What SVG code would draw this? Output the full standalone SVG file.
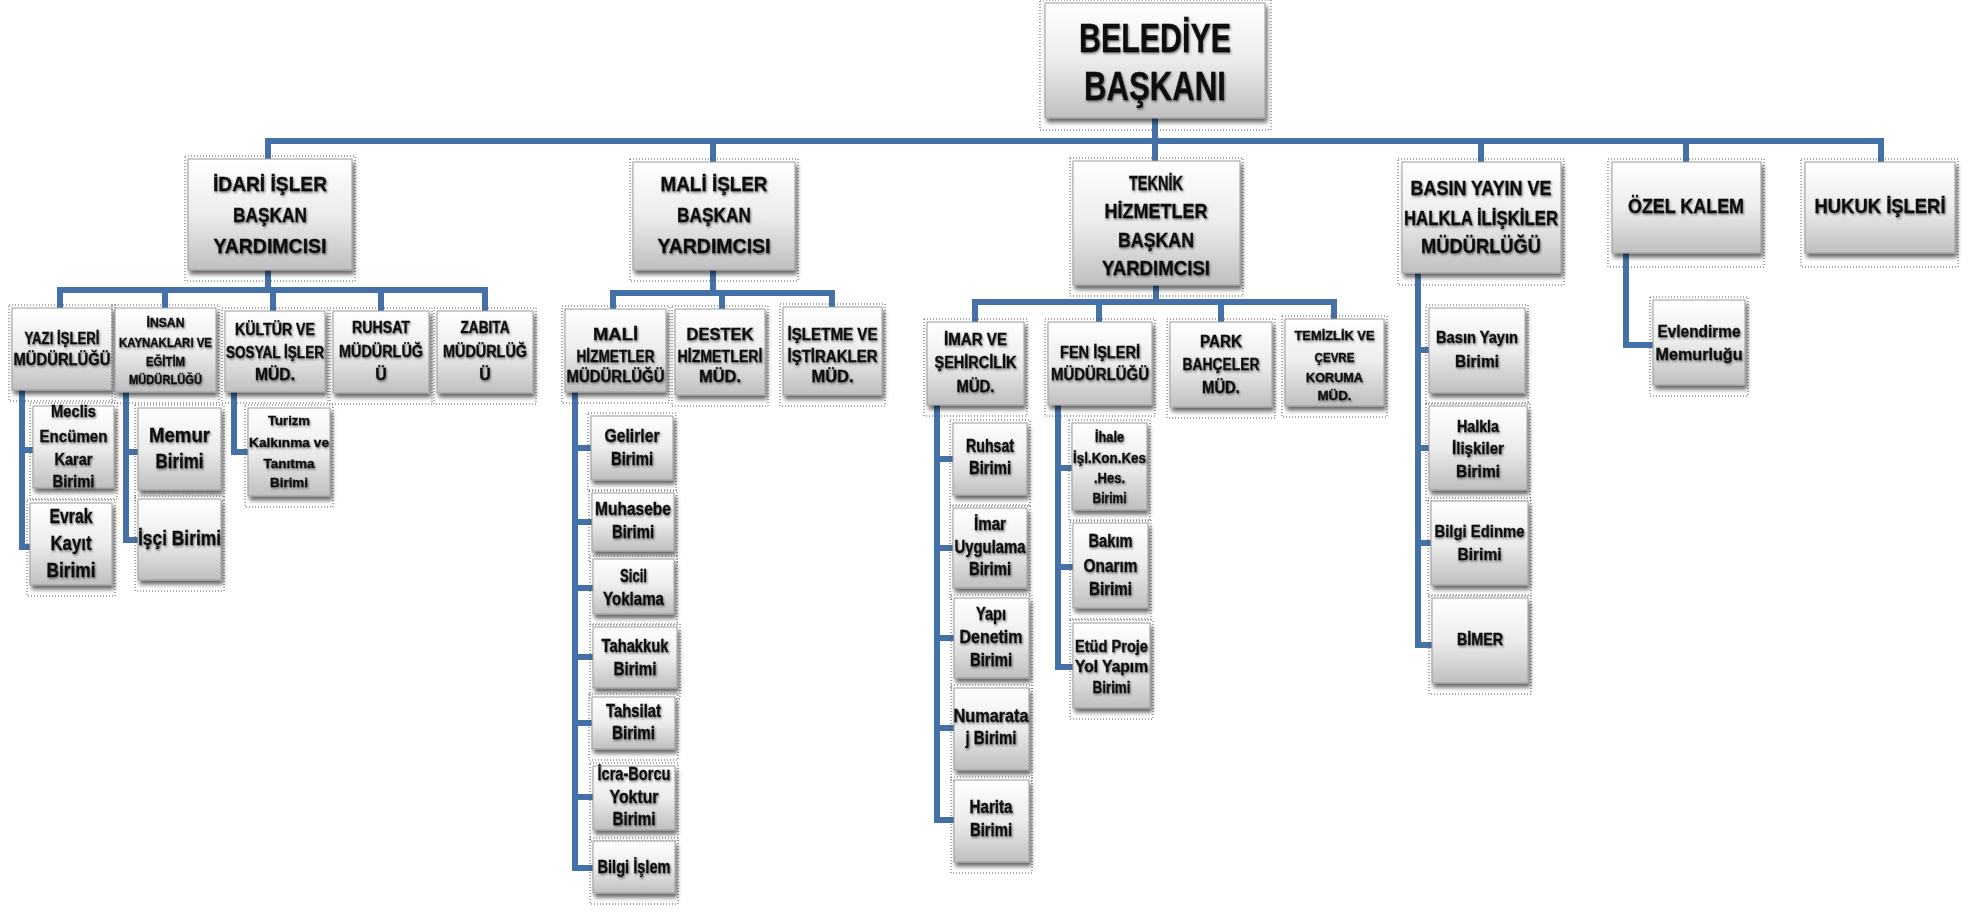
<svg xmlns="http://www.w3.org/2000/svg" width="1972" height="923" viewBox="0 0 1972 923">
<defs>
<linearGradient id="g" x1="0" y1="0" x2="0" y2="1">
<stop offset="0" stop-color="#ffffff"/>
<stop offset="0.5" stop-color="#ececec"/>
<stop offset="1" stop-color="#bfbfbf"/>
</linearGradient>
<filter id="sh" x="-10%" y="-10%" width="130%" height="140%">
<feDropShadow dx="2" dy="4" stdDeviation="2" flood-color="#000" flood-opacity="0.6"/>
</filter>
<filter id="ts" x="-5%" y="-20%" width="115%" height="150%">
<feDropShadow dx="1" dy="1.5" stdDeviation="0.8" flood-color="#000" flood-opacity="0.5"/>
</filter>
</defs>
<style>
.box{fill:url(#g);stroke:#9c9c9c;stroke-width:1;filter:url(#sh)}
.dot{fill:none;stroke:#555;stroke-width:1;stroke-dasharray:1 2}
.t{font-family:"Liberation Sans",Arial,sans-serif;font-weight:bold;text-anchor:middle;fill:#111;stroke:#111;stroke-width:0.35;filter:url(#ts)}
.c{fill:none;stroke:#4472A8;stroke-width:6;stroke-linejoin:miter;stroke-linecap:square}
</style>
<rect width="1972" height="923" fill="#fff"/>

<g id="connectors">
<path class="c" d="M1155,118V141M268,159V141H1881V162M713,141V162M1155,141V161M1481,141V162M1686,141V162"/>
<path class="c" d="M268,270V290M60,308V290H485V311M165,290V308M273,290V311M381,290V311"/>
<path class="c" d="M22,390V547H30M22,450H33"/>
<path class="c" d="M126,392V540H138M126,452H138"/>
<path class="c" d="M234,392V452H248"/>
<path class="c" d="M713,270V293M613,309V293H832V307M722,293V309"/>
<path class="c" d="M575,392V868H593M575,448H591M575,522H592M575,588H593M575,657H593M575,723H592M575,797H593"/>
<path class="c" d="M1156,285V302M975,322V302H1334V319M1099,302V322M1221,302V322"/>
<path class="c" d="M937,405V820H954M937,459H953M937,548H953M937,638H954M937,728H954"/>
<path class="c" d="M1058,405V667H1073M1058,468H1072M1058,567H1073"/>
<path class="c" d="M1418,273V645H1432M1418,350H1429M1418,448H1429M1418,543H1431"/>
<path class="c" d="M1626,253V345H1653"/>
</g>

<g id="n-baskan">
<rect class="dot" x="1040" y="0" width="231" height="130"/>
<rect class="box" x="1045" y="3" width="220" height="115"/>
<text class="t" font-size="40" x="1155" y="52" textLength="152" lengthAdjust="spacingAndGlyphs">BELEDİYE</text>
<text class="t" font-size="40" x="1155" y="100" textLength="142" lengthAdjust="spacingAndGlyphs">BAŞKANI</text>
</g>

<g id="n-idari">
<rect class="dot" x="185" y="156" width="170" height="125"/>
<rect class="box" x="188" y="159" width="164" height="111"/>
<text class="t" font-size="21" x="270" y="191" textLength="114" lengthAdjust="spacingAndGlyphs">İDARİ İŞLER</text>
<text class="t" font-size="21" x="270" y="222" textLength="74" lengthAdjust="spacingAndGlyphs">BAŞKAN</text>
<text class="t" font-size="21" x="270" y="253" textLength="113" lengthAdjust="spacingAndGlyphs">YARDIMCISI</text>
</g>

<g id="n-mali">
<rect class="dot" x="630" y="159" width="168" height="122"/>
<rect class="box" x="633" y="162" width="162" height="108"/>
<text class="t" font-size="21" x="714" y="191" textLength="107" lengthAdjust="spacingAndGlyphs">MALİ İŞLER</text>
<text class="t" font-size="21" x="714" y="222" textLength="74" lengthAdjust="spacingAndGlyphs">BAŞKAN</text>
<text class="t" font-size="21" x="714" y="253" textLength="113" lengthAdjust="spacingAndGlyphs">YARDIMCISI</text>
</g>

<g id="n-teknik">
<rect class="dot" x="1070" y="158" width="173" height="138"/>
<rect class="box" x="1073" y="161" width="167" height="124"/>
<text class="t" font-size="20" x="1156" y="190" textLength="54" lengthAdjust="spacingAndGlyphs">TEKNİK</text>
<text class="t" font-size="20" x="1156" y="218" textLength="103" lengthAdjust="spacingAndGlyphs">HİZMETLER</text>
<text class="t" font-size="20" x="1156" y="247" textLength="76" lengthAdjust="spacingAndGlyphs">BAŞKAN</text>
<text class="t" font-size="20" x="1156" y="275" textLength="108" lengthAdjust="spacingAndGlyphs">YARDIMCISI</text>
</g>

<g id="n-basin">
<rect class="dot" x="1398" y="159" width="166" height="126"/>
<rect class="box" x="1402" y="162" width="159" height="111"/>
<text class="t" font-size="20" x="1481" y="195" textLength="141" lengthAdjust="spacingAndGlyphs">BASIN YAYIN VE</text>
<text class="t" font-size="20" x="1481" y="225" textLength="154" lengthAdjust="spacingAndGlyphs">HALKLA İLİŞKİLER</text>
<text class="t" font-size="20" x="1481" y="253" textLength="120" lengthAdjust="spacingAndGlyphs">MÜDÜRLÜĞÜ</text>
</g>

<g id="n-ozel">
<rect class="dot" x="1608" y="159" width="156" height="108"/>
<rect class="box" x="1612" y="162" width="149" height="91"/>
<text class="t" font-size="21" x="1686" y="213" textLength="116" lengthAdjust="spacingAndGlyphs">ÖZEL KALEM</text>
</g>

<g id="n-hukuk">
<rect class="dot" x="1801" y="159" width="157" height="108"/>
<rect class="box" x="1805" y="162" width="150" height="91"/>
<text class="t" font-size="21" x="1880" y="213" textLength="131" lengthAdjust="spacingAndGlyphs">HUKUK İŞLERİ</text>
</g>

<g id="n-yazi">
<rect class="dot" x="9" y="305" width="106" height="96"/>
<rect class="box" x="12" y="308" width="100" height="82"/>
<text class="t" font-size="16" x="62" y="344" textLength="75" lengthAdjust="spacingAndGlyphs">YAZI İŞLERİ</text>
<text class="t" font-size="16" x="62" y="365" textLength="97" lengthAdjust="spacingAndGlyphs">MÜDÜRLÜĞÜ</text>
</g>

<g id="n-insan">
<rect class="dot" x="112" y="305" width="107" height="98"/>
<rect class="box" x="115" y="308" width="101" height="84"/>
<text class="t" font-size="12" x="165.5" y="327" textLength="38" lengthAdjust="spacingAndGlyphs">İNSAN</text>
<text class="t" font-size="12" x="165.5" y="347" textLength="93" lengthAdjust="spacingAndGlyphs">KAYNAKLARI  VE</text>
<text class="t" font-size="12" x="165.5" y="366" textLength="39" lengthAdjust="spacingAndGlyphs">EĞİTİM</text>
<text class="t" font-size="12" x="165.5" y="384" textLength="73" lengthAdjust="spacingAndGlyphs">MÜDÜRLÜĞÜ</text>
</g>

<g id="n-kultur">
<rect class="dot" x="222" y="308" width="106" height="95"/>
<rect class="box" x="225" y="311" width="100" height="81"/>
<text class="t" font-size="16" x="275" y="335" textLength="80" lengthAdjust="spacingAndGlyphs">KÜLTÜR VE</text>
<text class="t" font-size="16" x="275" y="358" textLength="98" lengthAdjust="spacingAndGlyphs">SOSYAL İŞLER</text>
<text class="t" font-size="16" x="275" y="380" textLength="40" lengthAdjust="spacingAndGlyphs">MÜD.</text>
</g>

<g id="n-ruhsat">
<rect class="dot" x="330" y="308" width="102" height="96"/>
<rect class="box" x="333" y="311" width="96" height="82"/>
<text class="t" font-size="16" x="381" y="333" textLength="58" lengthAdjust="spacingAndGlyphs">RUHSAT</text>
<text class="t" font-size="16" x="381" y="357" textLength="84" lengthAdjust="spacingAndGlyphs">MÜDÜRLÜĞ</text>
<text class="t" font-size="16" x="381" y="380">Ü</text>
</g>

<g id="n-zabita">
<rect class="dot" x="434" y="308" width="102" height="96"/>
<rect class="box" x="437" y="311" width="96" height="82"/>
<text class="t" font-size="16" x="485" y="333" textLength="49" lengthAdjust="spacingAndGlyphs">ZABITA</text>
<text class="t" font-size="16" x="485" y="357" textLength="84" lengthAdjust="spacingAndGlyphs">MÜDÜRLÜĞ</text>
<text class="t" font-size="16" x="485" y="380">Ü</text>
</g>

<g id="n-malihizmetler">
<rect class="dot" x="562" y="306" width="107" height="97"/>
<rect class="box" x="565" y="309" width="101" height="83"/>
<text class="t" font-size="16" x="615.5" y="340" textLength="45" lengthAdjust="spacingAndGlyphs">MALİ</text>
<text class="t" font-size="16" x="615.5" y="362" textLength="78" lengthAdjust="spacingAndGlyphs">HİZMETLER</text>
<text class="t" font-size="16" x="615.5" y="382" textLength="98" lengthAdjust="spacingAndGlyphs">MÜDÜRLÜĞÜ</text>
</g>

<g id="n-destek">
<rect class="dot" x="672" y="306" width="96" height="100"/>
<rect class="box" x="675" y="309" width="90" height="86"/>
<text class="t" font-size="16" x="720" y="340" textLength="67" lengthAdjust="spacingAndGlyphs">DESTEK</text>
<text class="t" font-size="16" x="720" y="362" textLength="85" lengthAdjust="spacingAndGlyphs">HİZMETLERİ</text>
<text class="t" font-size="16" x="720" y="382" textLength="42" lengthAdjust="spacingAndGlyphs">MÜD.</text>
</g>

<g id="n-isletme">
<rect class="dot" x="780" y="304" width="105" height="102"/>
<rect class="box" x="783" y="307" width="99" height="88"/>
<text class="t" font-size="16" x="832.5" y="340" textLength="90" lengthAdjust="spacingAndGlyphs">İŞLETME VE</text>
<text class="t" font-size="16" x="832.5" y="362" textLength="90" lengthAdjust="spacingAndGlyphs">İŞTİRAKLER</text>
<text class="t" font-size="16" x="832.5" y="382" textLength="42" lengthAdjust="spacingAndGlyphs">MÜD.</text>
</g>

<g id="n-imar">
<rect class="dot" x="924" y="319" width="103" height="97"/>
<rect class="box" x="927" y="322" width="97" height="83"/>
<text class="t" font-size="16" x="975.5" y="345" textLength="63" lengthAdjust="spacingAndGlyphs">İMAR VE</text>
<text class="t" font-size="16" x="975.5" y="368" textLength="82" lengthAdjust="spacingAndGlyphs">ŞEHİRCİLİK</text>
<text class="t" font-size="16" x="975.5" y="392" textLength="38" lengthAdjust="spacingAndGlyphs">MÜD.</text>
</g>

<g id="n-fen">
<rect class="dot" x="1045" y="319" width="110" height="97"/>
<rect class="box" x="1048" y="322" width="104" height="83"/>
<text class="t" font-size="16" x="1100" y="358" textLength="80" lengthAdjust="spacingAndGlyphs">FEN İŞLERİ</text>
<text class="t" font-size="16" x="1100" y="380" textLength="98" lengthAdjust="spacingAndGlyphs">MÜDÜRLÜĞÜ</text>
</g>

<g id="n-park">
<rect class="dot" x="1167" y="319" width="108" height="99"/>
<rect class="box" x="1170" y="322" width="102" height="85"/>
<text class="t" font-size="16" x="1221" y="347" textLength="42" lengthAdjust="spacingAndGlyphs">PARK</text>
<text class="t" font-size="16" x="1221" y="370" textLength="77" lengthAdjust="spacingAndGlyphs">BAHÇELER</text>
<text class="t" font-size="16" x="1221" y="393" textLength="38" lengthAdjust="spacingAndGlyphs">MÜD.</text>
</g>

<g id="n-temizlik">
<rect class="dot" x="1282" y="316" width="105" height="101"/>
<rect class="box" x="1285" y="319" width="99" height="87"/>
<text class="t" font-size="13" x="1334.5" y="340" textLength="80" lengthAdjust="spacingAndGlyphs">TEMİZLİK  VE</text>
<text class="t" font-size="13" x="1334.5" y="362" textLength="40" lengthAdjust="spacingAndGlyphs">ÇEVRE</text>
<text class="t" font-size="13" x="1334.5" y="382" textLength="57" lengthAdjust="spacingAndGlyphs">KORUMA</text>
<text class="t" font-size="13" x="1334.5" y="400" textLength="34" lengthAdjust="spacingAndGlyphs">MÜD.</text>
</g>

<g id="n-meclis">
<rect class="dot" x="30" y="403" width="87" height="96"/>
<rect class="box" x="33" y="406" width="81" height="82"/>
<text class="t" font-size="17" x="73.5" y="417" textLength="45" lengthAdjust="spacingAndGlyphs">Meclis</text>
<text class="t" font-size="17" x="73.5" y="442" textLength="68" lengthAdjust="spacingAndGlyphs">Encümen</text>
<text class="t" font-size="17" x="73.5" y="465" textLength="38" lengthAdjust="spacingAndGlyphs">Karar</text>
<text class="t" font-size="17" x="73.5" y="487" textLength="42" lengthAdjust="spacingAndGlyphs">Birimi</text>
</g>

<g id="n-evrak">
<rect class="dot" x="27" y="500" width="88" height="96"/>
<rect class="box" x="30" y="503" width="82" height="82"/>
<text class="t" font-size="20" x="71" y="523" textLength="43" lengthAdjust="spacingAndGlyphs">Evrak</text>
<text class="t" font-size="20" x="71" y="550" textLength="41" lengthAdjust="spacingAndGlyphs">Kayıt</text>
<text class="t" font-size="20" x="71" y="577" textLength="49" lengthAdjust="spacingAndGlyphs">Birimi</text>
</g>

<g id="n-memur">
<rect class="dot" x="135" y="405" width="89" height="96"/>
<rect class="box" x="138" y="408" width="83" height="82"/>
<text class="t" font-size="20" x="179.5" y="442" textLength="61" lengthAdjust="spacingAndGlyphs">Memur</text>
<text class="t" font-size="20" x="179.5" y="468" textLength="48" lengthAdjust="spacingAndGlyphs">Birimi</text>
</g>

<g id="n-isci">
<rect class="dot" x="135" y="496" width="89" height="95"/>
<rect class="box" x="138" y="499" width="83" height="81"/>
<text class="t" font-size="20" x="179.5" y="545" textLength="83" lengthAdjust="spacingAndGlyphs">İşçi Birimi</text>
</g>

<g id="n-turizm">
<rect class="dot" x="245" y="405" width="88" height="102"/>
<rect class="box" x="248" y="408" width="82" height="88"/>
<text class="t" font-size="13" x="289" y="425" textLength="42" lengthAdjust="spacingAndGlyphs">Turizm</text>
<text class="t" font-size="13" x="289" y="447" textLength="80" lengthAdjust="spacingAndGlyphs">Kalkınma  ve</text>
<text class="t" font-size="13" x="289" y="468" textLength="51" lengthAdjust="spacingAndGlyphs">Tanıtma</text>
<text class="t" font-size="13" x="289" y="487" textLength="38" lengthAdjust="spacingAndGlyphs">Birimi</text>
</g>

<g id="n-gelirler">
<rect class="dot" x="588" y="413" width="88" height="78"/>
<rect class="box" x="591" y="416" width="82" height="64"/>
<text class="t" font-size="18" x="632" y="442" textLength="55" lengthAdjust="spacingAndGlyphs">Gelirler</text>
<text class="t" font-size="18" x="632" y="465" textLength="42" lengthAdjust="spacingAndGlyphs">Birimi</text>
</g>

<g id="n-muhasebe">
<rect class="dot" x="589" y="490" width="88" height="72"/>
<rect class="box" x="592" y="493" width="82" height="58"/>
<text class="t" font-size="18" x="633" y="515" textLength="76" lengthAdjust="spacingAndGlyphs">Muhasebe</text>
<text class="t" font-size="18" x="633" y="538" textLength="42" lengthAdjust="spacingAndGlyphs">Birimi</text>
</g>

<g id="n-sicil">
<rect class="dot" x="590" y="556" width="87" height="69"/>
<rect class="box" x="593" y="559" width="81" height="55"/>
<text class="t" font-size="18" x="633.5" y="582" textLength="27" lengthAdjust="spacingAndGlyphs">Sicil</text>
<text class="t" font-size="18" x="633.5" y="605" textLength="61" lengthAdjust="spacingAndGlyphs">Yoklama</text>
</g>

<g id="n-tahakkuk">
<rect class="dot" x="590" y="624" width="90" height="75"/>
<rect class="box" x="593" y="627" width="84" height="61"/>
<text class="t" font-size="18" x="635" y="652" textLength="67" lengthAdjust="spacingAndGlyphs">Tahakkuk</text>
<text class="t" font-size="18" x="635" y="675" textLength="43" lengthAdjust="spacingAndGlyphs">Birimi</text>
</g>

<g id="n-tahsilat">
<rect class="dot" x="589" y="694" width="89" height="66"/>
<rect class="box" x="592" y="697" width="83" height="52"/>
<text class="t" font-size="18" x="633.5" y="717" textLength="55" lengthAdjust="spacingAndGlyphs">Tahsilat</text>
<text class="t" font-size="18" x="633.5" y="739" textLength="43" lengthAdjust="spacingAndGlyphs">Birimi</text>
</g>

<g id="n-icra">
<rect class="dot" x="590" y="763" width="88" height="78"/>
<rect class="box" x="593" y="766" width="82" height="64"/>
<text class="t" font-size="18" x="634" y="780" textLength="73" lengthAdjust="spacingAndGlyphs">İcra-Borcu</text>
<text class="t" font-size="18" x="634" y="803" textLength="49" lengthAdjust="spacingAndGlyphs">Yoktur</text>
<text class="t" font-size="18" x="634" y="825" textLength="43" lengthAdjust="spacingAndGlyphs">Birimi</text>
</g>

<g id="n-bilgiislem">
<rect class="dot" x="590" y="838" width="88" height="66"/>
<rect class="box" x="593" y="841" width="82" height="52"/>
<text class="t" font-size="18" x="634" y="873" textLength="73" lengthAdjust="spacingAndGlyphs">Bilgi İşlem</text>
</g>

<g id="n-ruhsatbirimi">
<rect class="dot" x="950" y="420" width="80" height="86"/>
<rect class="box" x="953" y="423" width="74" height="72"/>
<text class="t" font-size="18" x="990" y="452" textLength="48" lengthAdjust="spacingAndGlyphs">Ruhsat</text>
<text class="t" font-size="18" x="990" y="474" textLength="42" lengthAdjust="spacingAndGlyphs">Birimi</text>
</g>

<g id="n-imaruygulama">
<rect class="dot" x="950" y="505" width="80" height="94"/>
<rect class="box" x="953" y="508" width="74" height="80"/>
<text class="t" font-size="18" x="990" y="530" textLength="32" lengthAdjust="spacingAndGlyphs">İmar</text>
<text class="t" font-size="18" x="990" y="553" textLength="71" lengthAdjust="spacingAndGlyphs">Uygulama</text>
<text class="t" font-size="18" x="990" y="575" textLength="42" lengthAdjust="spacingAndGlyphs">Birimi</text>
</g>

<g id="n-yapidenetim">
<rect class="dot" x="951" y="595" width="81" height="94"/>
<rect class="box" x="954" y="598" width="75" height="80"/>
<text class="t" font-size="18" x="991" y="620" textLength="30" lengthAdjust="spacingAndGlyphs">Yapı</text>
<text class="t" font-size="18" x="991" y="643" textLength="63" lengthAdjust="spacingAndGlyphs">Denetim</text>
<text class="t" font-size="18" x="991" y="666" textLength="42" lengthAdjust="spacingAndGlyphs">Birimi</text>
</g>

<g id="n-numarataj">
<rect class="dot" x="951" y="685" width="81" height="96"/>
<rect class="box" x="954" y="688" width="75" height="82"/>
<text class="t" font-size="18" x="991" y="722" textLength="75" lengthAdjust="spacingAndGlyphs">Numarata</text>
<text class="t" font-size="18" x="991" y="744" textLength="51" lengthAdjust="spacingAndGlyphs">j Birimi</text>
</g>

<g id="n-harita">
<rect class="dot" x="951" y="777" width="81" height="96"/>
<rect class="box" x="954" y="780" width="75" height="82"/>
<text class="t" font-size="18" x="991" y="813" textLength="43" lengthAdjust="spacingAndGlyphs">Harita</text>
<text class="t" font-size="18" x="991" y="836" textLength="42" lengthAdjust="spacingAndGlyphs">Birimi</text>
</g>

<g id="n-ihale">
<rect class="dot" x="1069" y="420" width="81" height="101"/>
<rect class="box" x="1072" y="423" width="75" height="87"/>
<text class="t" font-size="14" x="1109.5" y="442" textLength="29" lengthAdjust="spacingAndGlyphs">İhale</text>
<text class="t" font-size="14" x="1109.5" y="463" textLength="73" lengthAdjust="spacingAndGlyphs">İşl.Kon.Kes</text>
<text class="t" font-size="14" x="1109.5" y="483" textLength="31" lengthAdjust="spacingAndGlyphs">.Hes.</text>
<text class="t" font-size="14" x="1109.5" y="503" textLength="34" lengthAdjust="spacingAndGlyphs">Birimi</text>
</g>

<g id="n-bakim">
<rect class="dot" x="1070" y="520" width="81" height="99"/>
<rect class="box" x="1073" y="523" width="75" height="85"/>
<text class="t" font-size="18" x="1110.5" y="547" textLength="44" lengthAdjust="spacingAndGlyphs">Bakım</text>
<text class="t" font-size="18" x="1110.5" y="572" textLength="54" lengthAdjust="spacingAndGlyphs">Onarım</text>
<text class="t" font-size="18" x="1110.5" y="595" textLength="43" lengthAdjust="spacingAndGlyphs">Birimi</text>
</g>

<g id="n-etud">
<rect class="dot" x="1070" y="620" width="83" height="99"/>
<rect class="box" x="1073" y="623" width="77" height="85"/>
<text class="t" font-size="16" x="1111.5" y="652" textLength="73" lengthAdjust="spacingAndGlyphs">Etüd Proje</text>
<text class="t" font-size="16" x="1111.5" y="672" textLength="73" lengthAdjust="spacingAndGlyphs">Yol Yapım</text>
<text class="t" font-size="16" x="1111.5" y="693" textLength="38" lengthAdjust="spacingAndGlyphs">Birimi</text>
</g>

<g id="n-basinyayin">
<rect class="dot" x="1426" y="305" width="102" height="99"/>
<rect class="box" x="1429" y="308" width="96" height="85"/>
<text class="t" font-size="17" x="1477" y="343" textLength="82" lengthAdjust="spacingAndGlyphs">Basın Yayın</text>
<text class="t" font-size="17" x="1477" y="367" textLength="44" lengthAdjust="spacingAndGlyphs">Birimi</text>
</g>

<g id="n-halkla">
<rect class="dot" x="1426" y="403" width="104" height="98"/>
<rect class="box" x="1429" y="406" width="98" height="84"/>
<text class="t" font-size="17" x="1478" y="432" textLength="42" lengthAdjust="spacingAndGlyphs">Halkla</text>
<text class="t" font-size="17" x="1478" y="454" textLength="52" lengthAdjust="spacingAndGlyphs">İlişkiler</text>
<text class="t" font-size="17" x="1478" y="477" textLength="44" lengthAdjust="spacingAndGlyphs">Birimi</text>
</g>

<g id="n-bilgiedinme">
<rect class="dot" x="1428" y="498" width="103" height="98"/>
<rect class="box" x="1431" y="501" width="97" height="84"/>
<text class="t" font-size="17" x="1479.5" y="537" textLength="90" lengthAdjust="spacingAndGlyphs">Bilgi Edinme</text>
<text class="t" font-size="17" x="1479.5" y="560" textLength="44" lengthAdjust="spacingAndGlyphs">Birimi</text>
</g>

<g id="n-bimer">
<rect class="dot" x="1429" y="595" width="102" height="99"/>
<rect class="box" x="1432" y="598" width="96" height="85"/>
<text class="t" font-size="17" x="1480" y="645" textLength="46" lengthAdjust="spacingAndGlyphs">BİMER</text>
</g>

<g id="n-evlendirme">
<rect class="dot" x="1650" y="297" width="98" height="99"/>
<rect class="box" x="1653" y="300" width="92" height="85"/>
<text class="t" font-size="17" x="1699" y="337" textLength="83" lengthAdjust="spacingAndGlyphs">Evlendirme</text>
<text class="t" font-size="17" x="1699" y="360" textLength="87" lengthAdjust="spacingAndGlyphs">Memurluğu</text>
</g>
</svg>
